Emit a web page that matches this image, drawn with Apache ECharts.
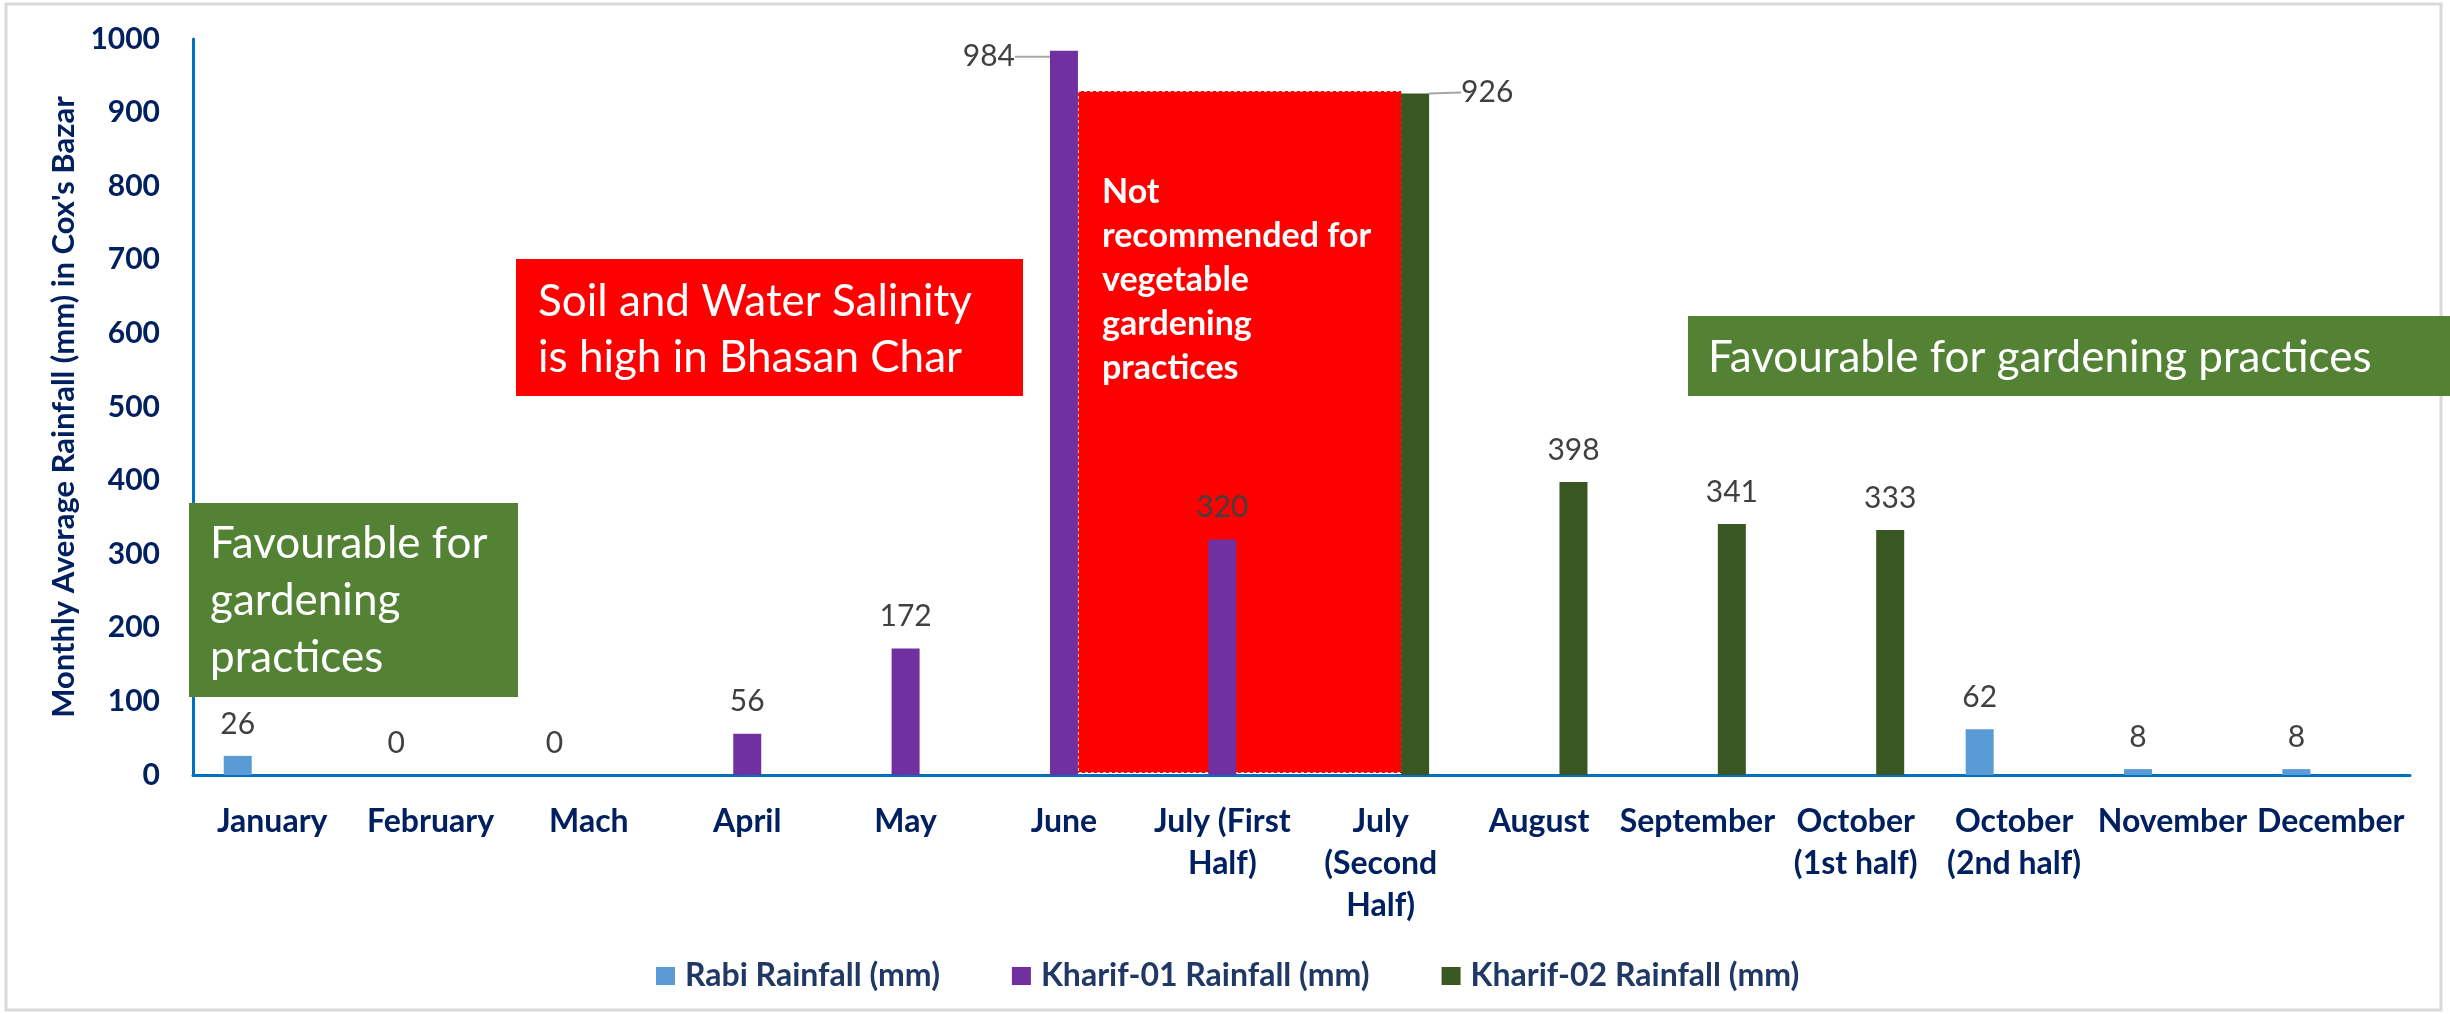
<!DOCTYPE html>
<html>
<head>
<meta charset="utf-8">
<title>Monthly Average Rainfall in Cox's Bazar</title>
<script src="https://cdn.jsdelivr.net/npm/echarts@6.0.0/dist/echarts.min.js"></script>
<style>
  html, body { margin: 0; padding: 0; background: #fff; }
  #rainfall-chart { width: 2450px; height: 1014px; }
</style>
</head>
<body>
<div id="rainfall-chart"></div>
<script>
// categories as printed under the axis (Excel wrapped the long ones)
const months = ['January', 'February', 'Mach', 'April', 'May', 'June', 'July (First\nHalf)',
  'July\n(Second\nHalf)', 'August', 'September', 'October\n(1st half)', 'October\n(2nd half)',
  'November', 'December']
const rabi = [26, 0, 0, null, null, null, null, null, null, null, null, 62, 8, 8]
const kharif01 = [null, null, null, 56, 172, 984, 320, null, null, null, null, null, null, null]
const kharif02 = [null, null, null, null, null, null, null, 926, 398, 341, 333, null, null, null]
const yTicks = [0, 100, 200, 300, 400, 500, 600, 700, 800, 900, 1000]

const FONT = 'Lato'
const NAVY = '#002060'

const chartDom = echarts.init(document.getElementById('rainfall-chart'))

const dataLabel = {
  show: true,
  position: 'top',
  distance: 17,
  color: '#404040',
  fontFamily: FONT,
  fontSize: 30
}

// only the two tall bars get a leader line, the rest are plain values
function withLeader(values, idx) {
  return values.map(function(v, i) {
    if (i === idx) {
      return { value: v, labelLine: { show: true, lineStyle: { color: '#a6a6a6', width: 2 } } }
    }
    return v
  })
}

const option = {
  backgroundColor: '#fff',
  animation: false,
  grid: {
    left: 193,
    right: 40,
    top: 39,
    bottom: 239
  },
  legend: {
    left: 651,
    top: 955,
    itemWidth: 19,
    itemHeight: 18,
    itemGap: 72,
    icon: 'rect',
    textStyle: {
      color: '#203864',
      fontFamily: FONT,
      fontWeight: 'bold',
      fontSize: 32,
      padding: [0, 0, 0, 5]
    },
    data: ['Rabi Rainfall (mm)', 'Kharif-01 Rainfall (mm)', 'Kharif-02 Rainfall (mm)']
  },
  xAxis: {
    type: 'category',
    data: months,
    axisTick: { show: false },
    axisLine: {
      lineStyle: { color: '#0070C0', width: 3 }
    },
    axisLabel: {
      interval: 0,
      margin: 26,
      color: NAVY,
      fontFamily: FONT,
      fontWeight: 'bold',
      fontSize: 32,
      lineHeight: 42
    }
  },
  yAxis: {
    type: 'value',
    min: yTicks[0],
    max: yTicks[yTicks.length - 1],
    interval: 100,
    name: 'Monthly Average Rainfall (mm) in Cox\'s Bazar',
    nameLocation: 'middle',
    nameGap: 98,
    nameTextStyle: {
      color: NAVY,
      fontFamily: FONT,
      fontWeight: 'bold',
      fontSize: 31
    },
    splitLine: { show: false },
    axisTick: { show: false },
    axisLine: {
      show: true,
      lineStyle: { color: '#0070C0', width: 3 }
    },
    axisLabel: {
      margin: 33,
      color: NAVY,
      fontFamily: FONT,
      fontWeight: 'bold',
      fontSize: 30,
      formatter: function(value) {
        return String(value)
      }
    }
  },
  series: [
    {
      name: 'Rabi Rainfall (mm)',
      type: 'bar',
      data: rabi,
      barWidth: 28,
      barGap: '23%',
      itemStyle: { color: '#5B9BD5' },
      label: dataLabel
    },
    {
      name: 'Kharif-01 Rainfall (mm)',
      type: 'bar',
      data: withLeader(kharif01, 5),
      barWidth: 28,
      barGap: '23%',
      itemStyle: { color: '#7030A0' },
      label: dataLabel,
      // June total sits to the left of its bar
      labelLayout: function(p) {
        if (p.dataIndex === 5) {
          return { x: p.rect.x - 35, y: p.rect.y + 6, align: 'right', verticalAlign: 'middle' }
        }
        return {}
      }
    },
    {
      name: 'Kharif-02 Rainfall (mm)',
      type: 'bar',
      data: withLeader(kharif02, 7),
      barWidth: 28,
      barGap: '23%',
      itemStyle: { color: '#385723' },
      label: dataLabel,
      // July (second half) total sits to the right of its bar
      labelLayout: function(p) {
        if (p.dataIndex === 7) {
          return { x: p.rect.x + p.rect.width + 32, y: p.rect.y - 1, align: 'left', verticalAlign: 'middle' }
        }
        return {}
      }
    }
  ],
  graphic: [
    // outer frame
    {
      type: 'rect',
      silent: true,
      z: -10,
      shape: { x: 6, y: 4, width: 2435, height: 1006 },
      style: { fill: 'none', stroke: '#d9d9d9', lineWidth: 3 }
    },
    // not recommended block (behind the bars)
    {
      type: 'rect',
      silent: true,
      z: 0,
      shape: { x: 1078, y: 91, width: 324, height: 682 },
      style: { fill: '#ff0000', stroke: '#ffffff', lineWidth: 1.5, lineDash: [3, 3] }
    },
    {
      type: 'text',
      silent: true,
      z: 1,
      style: {
        x: 1102,
        y: 170,
        text: 'Not\nrecommended for\nvegetable\ngardening\npractices',
        fill: '#ffffff',
        fontFamily: FONT,
        fontWeight: 'bold',
        fontSize: 34,
        lineHeight: 44,
        verticalAlign: 'top'
      }
    },
    // salinity note
    {
      type: 'rect',
      silent: true,
      z: 50,
      shape: { x: 516, y: 259, width: 507, height: 137 },
      style: { fill: '#ff0000' }
    },
    {
      type: 'text',
      silent: true,
      z: 51,
      style: {
        x: 538,
        y: 274,
        text: 'Soil and Water Salinity\nis high in Bhasan Char',
        fill: '#ffffff',
        fontFamily: FONT,
        fontSize: 44,
        lineHeight: 56,
        verticalAlign: 'top'
      }
    },
    // favourable (dry season)
    {
      type: 'rect',
      silent: true,
      z: 50,
      shape: { x: 189, y: 503, width: 329, height: 194 },
      style: { fill: '#548235' }
    },
    {
      type: 'text',
      silent: true,
      z: 51,
      style: {
        x: 210,
        y: 515,
        text: 'Favourable for\ngardening\npractices',
        fill: '#ffffff',
        fontFamily: FONT,
        fontSize: 44,
        lineHeight: 57,
        verticalAlign: 'top'
      }
    },
    // favourable (after monsoon)
    {
      type: 'rect',
      silent: true,
      z: 50,
      shape: { x: 1688, y: 316, width: 762, height: 80 },
      style: { fill: '#548235' }
    },
    {
      type: 'text',
      silent: true,
      z: 51,
      style: {
        x: 1708,
        y: 358,
        text: 'Favourable for gardening practices',
        fill: '#ffffff',
        fontFamily: FONT,
        fontSize: 44,
        verticalAlign: 'middle'
      }
    }
  ]
}

chartDom.setOption(option)
</script>
</body>
</html>
